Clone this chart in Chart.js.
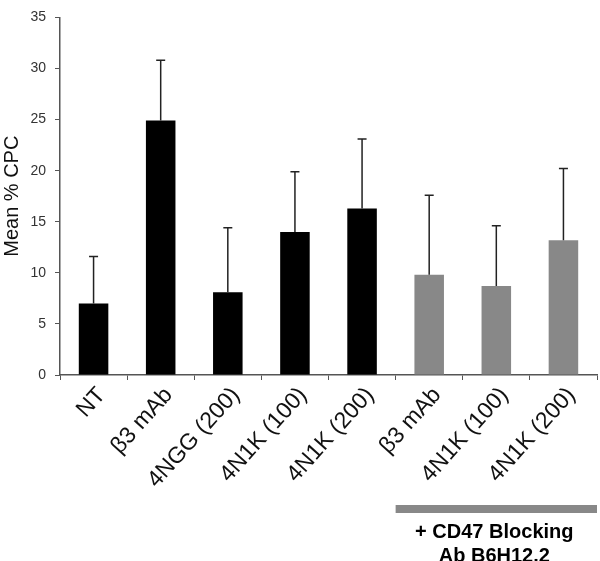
<!DOCTYPE html>
<html>
<head>
<meta charset="utf-8">
<script src="https://cdn.jsdelivr.net/npm/chart.js@4.4.1/dist/chart.umd.min.js"></script>
<style>
    body { margin: 0; background: #fff; }
</style>
</head>
<body>
<canvas id="cpc-chart" width="600" height="561"></canvas>
<script>
const categories = ["NT", "β3 mAb", "4NGG (200)", "4N1K (100)", "4N1K (200)", "β3 mAb", "4N1K (100)", "4N1K (200)"];
const meanCpc = [7.0, 24.9, 8.1, 14.0, 16.3, 9.8, 8.7, 13.2];
const errorCpc = [4.6, 5.9, 6.3, 5.9, 6.8, 7.8, 5.9, 7.0];
const barColors = ["#000", "#000", "#000", "#000", "#000", "#888", "#888", "#888"];
const yTicks = [0, 5, 10, 15, 20, 25, 30, 35];
const blockingLabel = ["+ CD47 Blocking", "Ab B6H12.2"];
const blockingFrom = 5; // first category with the blocking antibody

// upward-only error bars with a small cap
const errorBars = {
    id: "errorBars",
    afterDatasetsDraw(chart) {
        const ctx = chart.ctx;
        const x = chart.scales.x;
        const y = chart.scales.y;
        ctx.save();
        ctx.strokeStyle = "#222";
        ctx.lineWidth = 1.5;
        meanCpc.forEach((v, i) => {
            const px = x.getPixelForValue(i);
            const top = y.getPixelForValue(v + errorCpc[i]);
            const base = y.getPixelForValue(v);
            ctx.beginPath();
            ctx.moveTo(px, base);
            ctx.lineTo(px, top);
            ctx.moveTo(px - 4.5, top);
            ctx.lineTo(px + 4.5, top);
            ctx.stroke();
        });
        ctx.restore();
    },
};

// grey band + caption under the blocking-antibody group
const blockingBand = {
    id: "blockingBand",
    afterDraw(chart) {
        const ctx = chart.ctx;
        const x = chart.scales.x;
        const step = x.getPixelForValue(1) - x.getPixelForValue(0);
        const left = x.getPixelForValue(blockingFrom) - step / 2;
        const right = chart.chartArea.right;
        ctx.save();
        ctx.fillStyle = "#888";
        ctx.fillRect(left, 505, right - left, 8);
        ctx.fillStyle = "#000";
        ctx.font = "bold 20px 'Liberation Sans', Arial, sans-serif";
        ctx.textAlign = "center";
        ctx.textBaseline = "middle";
        const mid = (left + right) / 2 - 2;
        ctx.fillText(blockingLabel[0], mid, 532);
        ctx.fillText(blockingLabel[1], mid, 556);
        ctx.restore();
    },
};

new Chart(document.getElementById("cpc-chart"), {
    type: "bar",
    data: {
        labels: categories,
        datasets: [
            {
                data: meanCpc,
                backgroundColor: barColors,
                barPercentage: 0.44,
                categoryPercentage: 1,
            },
        ],
    },
    options: {
        responsive: false,
        animation: false,
        layout: {
            padding: { top: 1, right: 3, left: 0, bottom: 0 },
        },
        plugins: {
            legend: { display: false },
            tooltip: { enabled: false },
        },
        scales: {
            x: {
                offset: true,
                afterFit: (scale) => {
                    scale.height = 186;
                },
                border: { color: "#555", width: 1.5 },
                grid: {
                    offset: true,
                    drawOnChartArea: false,
                    tickLength: 5,
                    color: "#555",
                },
                ticks: {
                    minRotation: 48,
                    maxRotation: 48,
                    labelOffset: 8,
                    color: "#111",
                    padding: 2,
                    font: { family: "'Liberation Sans', Arial, sans-serif", size: 23 },
                },
            },
            y: {
                min: 0,
                max: 35,
                afterFit: (scale) => {
                    scale.width = 60;
                },
                afterBuildTicks: (scale) => {
                    scale.ticks = yTicks.map((v) => ({ value: v }));
                },
                border: { color: "#555", width: 1.5 },
                grid: {
                    drawOnChartArea: false,
                    tickLength: 5,
                    color: "#555",
                },
                ticks: {
                    color: "#333",
                    padding: 9,
                    font: { family: "'Liberation Sans', Arial, sans-serif", size: 14 },
                },
                title: {
                    display: true,
                    text: "Mean % CPC",
                    color: "#111",
                    padding: { top: 0, bottom: 4 },
                    font: { family: "'Liberation Sans', Arial, sans-serif", size: 20 },
                },
            },
        },
    },
    plugins: [errorBars, blockingBand],
});
</script>
</body>
</html>
